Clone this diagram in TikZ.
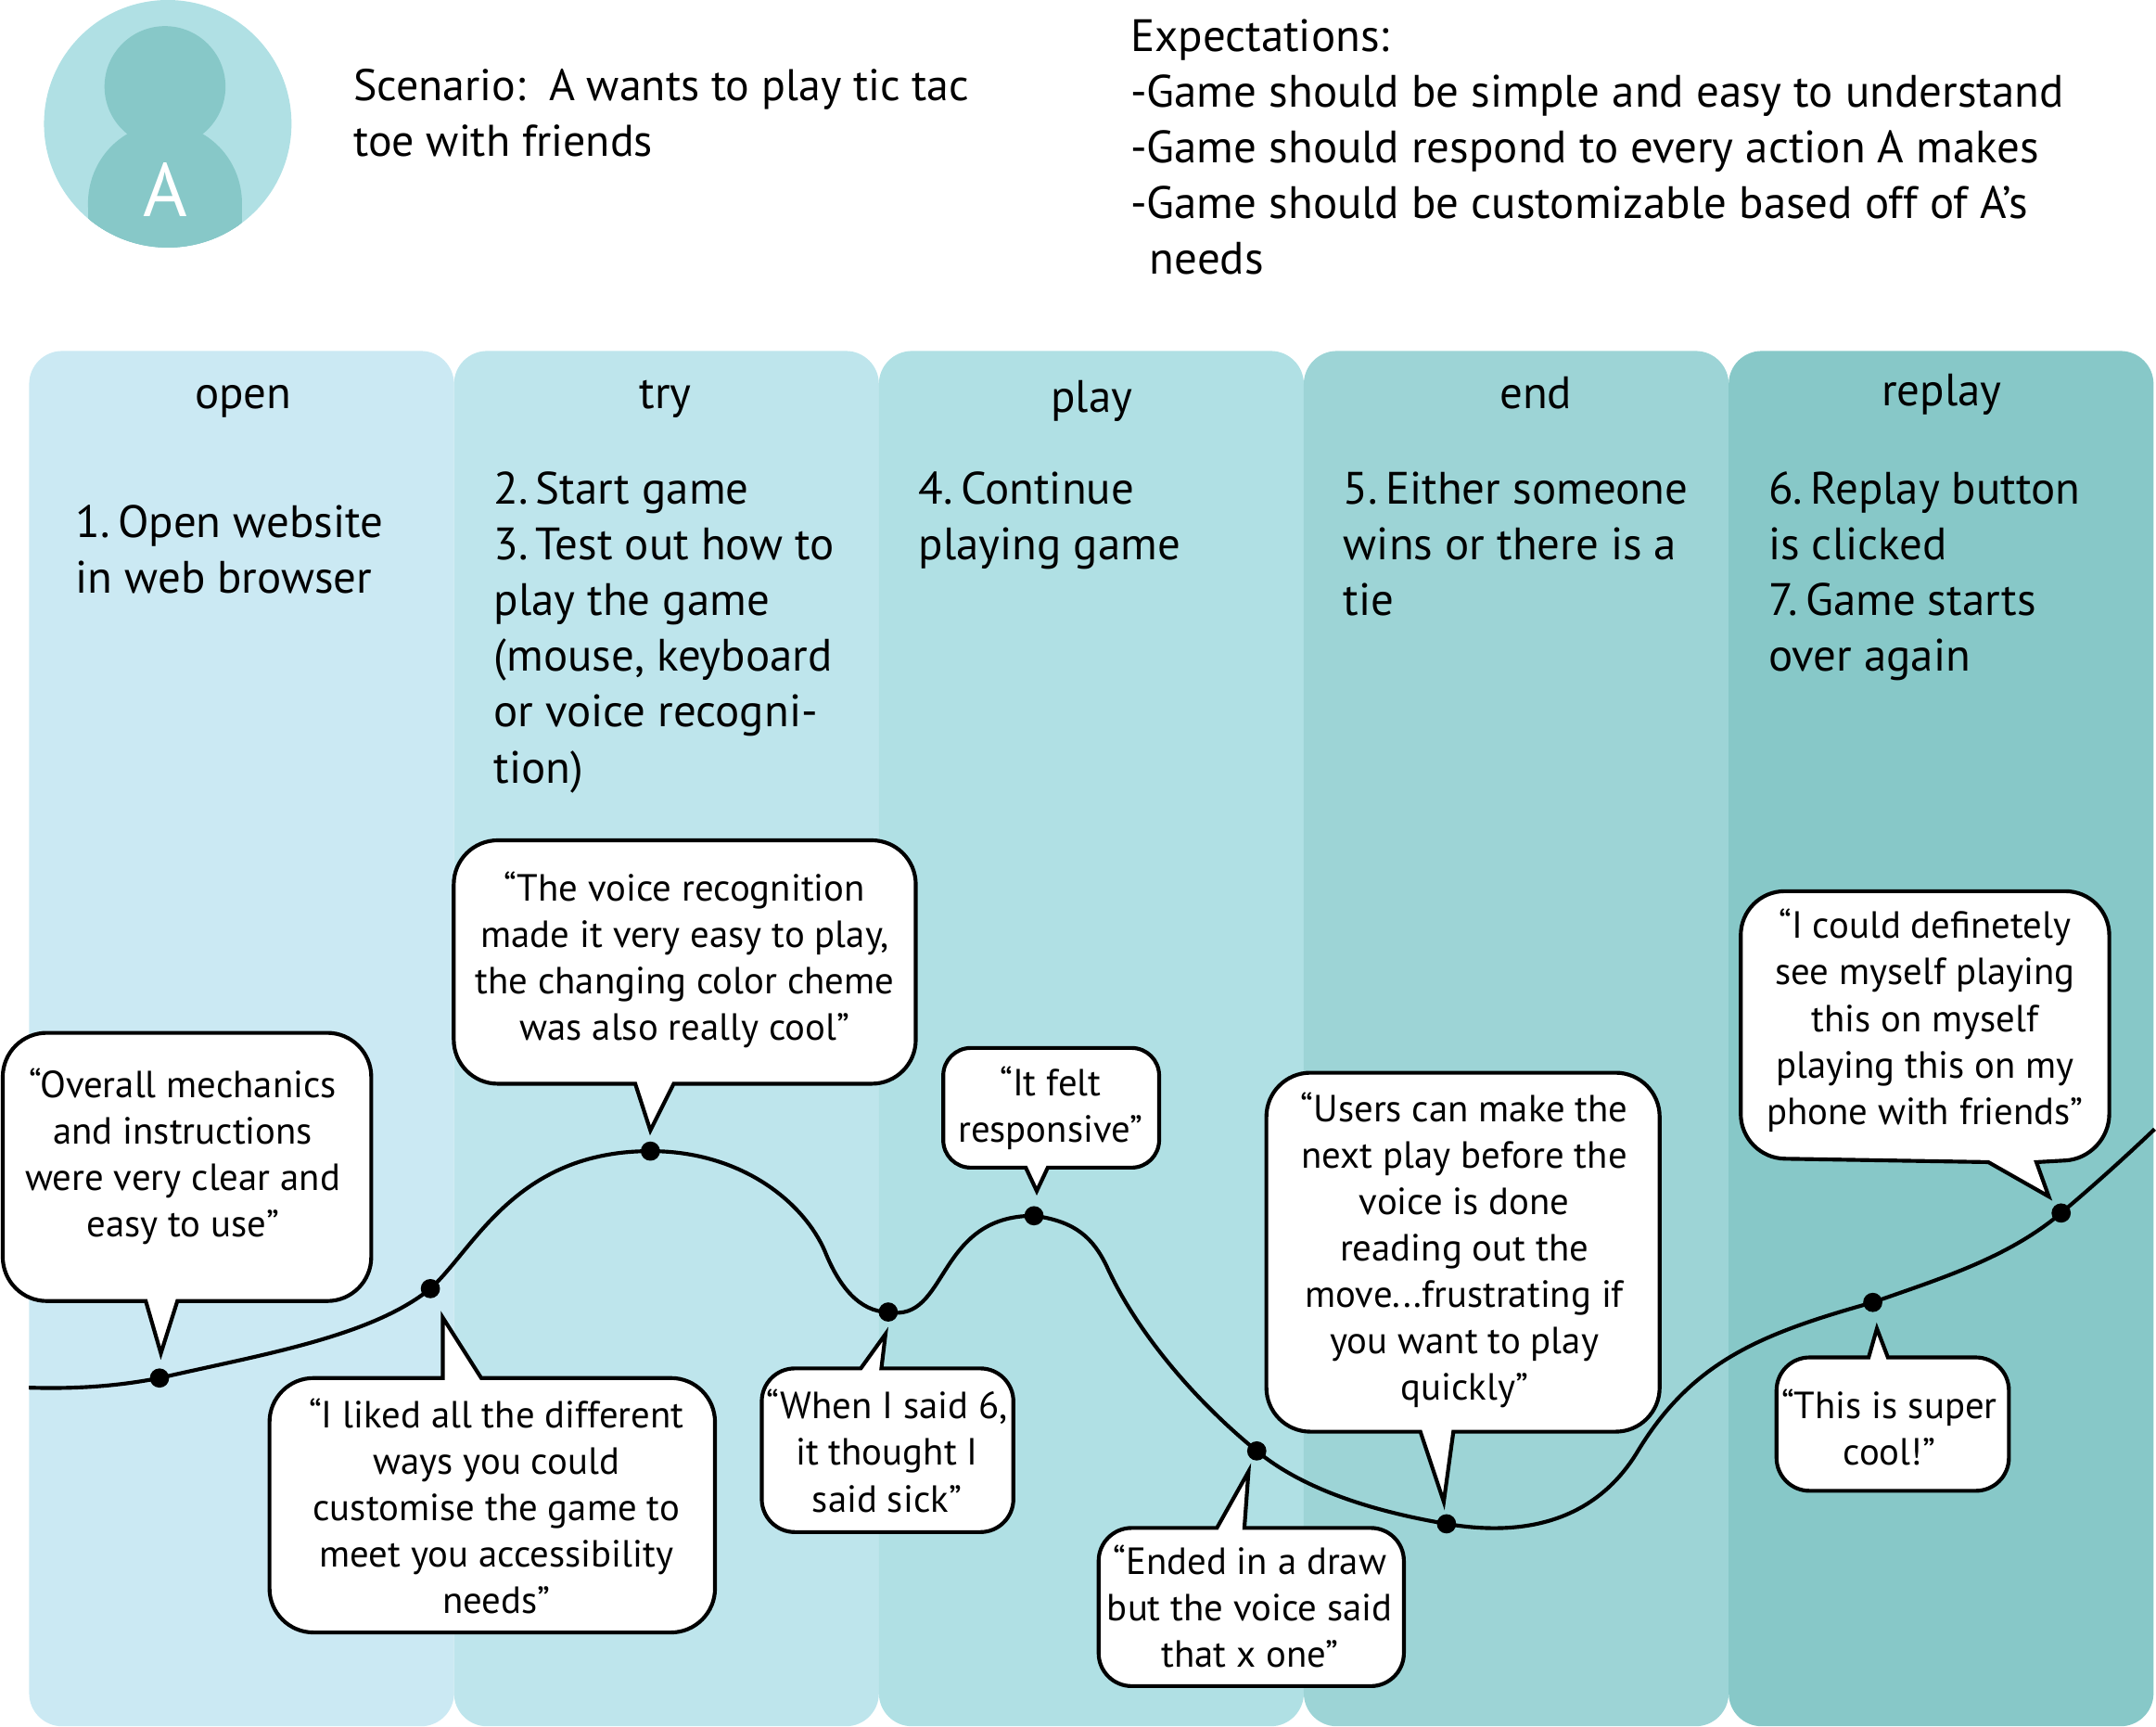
\documentclass[tikz,border=0pt]{standalone}
\usepackage{fontspec}
\setmainfont{PT Sans}
\definecolor{laneopen}{HTML}{CBE9F3}
\definecolor{lanetry}{HTML}{BEE5EC}
\definecolor{laneplay}{HTML}{B0E0E4}
\definecolor{laneend}{HTML}{9DD4D6}
\definecolor{lanereplay}{HTML}{87C8C8}
\newcommand{\numgap}{\hspace{5.5pt}}
\tikzset{
  lanebox/.style={anchor=north west, inner sep=0pt, minimum width=309pt, minimum height=1000pt, rounded corners=24pt},
  bodytext/.style={anchor=north west, inner sep=0pt, align=left, font=\fontsize{33}{40.5}\selectfont},
  headtext/.style={anchor=base, inner sep=0pt, font=\fontsize{33}{40.5}\selectfont},
  quotetext/.style={inner sep=0pt, align=center, font=\fontsize{27.5}{33.8}\selectfont},
  bubble/.style={draw=black, fill=white, line width=2.8pt, line join=miter},
  curveline/.style={draw=black, line width=2.8pt},
  pointdot/.style={circle, fill=black, inner sep=0pt, minimum size=14pt}
}
\begin{document}
\begin{tikzpicture}[x=1pt,y=-1pt]
\useasboundingbox (0,0) rectangle (1568,1255.7);
% avatar
\fill[laneplay] (122,90) circle (90);
\begin{scope}
\clip (122,90) circle (90);
\fill[lanereplay] (120,63) circle (44);
\fill[lanereplay] (120,148) ellipse (56 and 58);
\fill[lanereplay] (64,148) rectangle (176,190);
\end{scope}
\node[inner sep=0pt, text=white, font=\fontsize{55}{60}\selectfont] (avatar) at (120,138) {A};
% heading texts
\node[bodytext, font=\fontsize{32.3}{40.5}\selectfont] (scenario) at (257,50) {Scenario:\hspace{17pt}A wants to play tic tac\\toe with friends};
\node[bodytext] (expect) at (822,14) {Expectations:\\-Game should be simple and easy to understand\\-Game should respond to every action A makes\\-Game should be customizable based off of A’s\\\hspace*{14pt}needs};
% lanes
\foreach \lname/\lx in {laneopen/21,lanetry/330,laneplay/639,laneend/948,lanereplay/1257}
  \node[lanebox, fill=\lname] (\lname) at (\lx,255) {};
\node[headtext] (hopen) at (177,297) {open};
\node[headtext] (htry) at (484,297) {try};
\node[headtext] (hplay) at (794,300) {play};
\node[headtext] (hend) at (1117,297) {end};
\node[headtext] (hreplay) at (1412,295) {replay};
\node[bodytext] (topen) at (55,367) {1.\numgap Open website\\in web browser};
\node[bodytext] (ttry) at (359,343) {2.\numgap Start game\\3.\numgap Test out how to\\play the game\\(mouse, keyboard\\or voice recogni-\\tion)};
\node[bodytext] (tplay) at (668,343) {4.\numgap Continue\\playing game};
\node[bodytext] (tend) at (977,343) {5.\numgap Either someone\\wins or there is a\\tie};
\node[bodytext] (treplay) at (1286,343) {6.\numgap Replay button\\is clicked\\7.\numgap Game starts\\over again};
% points on the curve
\coordinate (cstart) at (21,1009);
\coordinate (cstop) at (1567,821);
\coordinate (m1) at (600,910);
\coordinate (m2) at (805,921);
\coordinate (m3) at (1190,1057);
\node[pointdot] (p1) at (116,1002) {};
\node[pointdot] (p2) at (313,937) {};
\node[pointdot] (p3) at (473,837) {};
\node[pointdot] (p4) at (646,954) {};
\node[pointdot] (p5) at (752,884) {};
\node[pointdot] (p6) at (914,1055) {};
\node[pointdot] (p7) at (1052,1108) {};
\node[pointdot] (p8) at (1362,947) {};
\node[pointdot] (p9) at (1499,882) {};
\draw[curveline] (cstart) .. controls (55,1010) and (85,1008) .. (p1.center)
  .. controls (190,985) and (270,972) .. (p2.center)
  .. controls (345,908) and (375,837) .. (p3.center)
  .. controls (540,837) and (585,875) .. (m1)
  .. controls (610,935) and (625,954) .. (p4.center)
  .. controls (690,962) and (680,884) .. (p5.center)
  .. controls (782,888) and (795,900) .. (m2)
  .. controls (825,965) and (865,1015) .. (p6.center)
  .. controls (950,1085) and (1005,1100) .. (p7.center)
  .. controls (1110,1118) and (1160,1105) .. (m3)
  .. controls (1230,990) and (1280,970) .. (p8.center)
  .. controls (1410,930) and (1460,915) .. (p9.center)
  .. controls (1525,860) and (1547,840) .. (cstop);
% bubbles
\draw[bubble] (106,946) [rounded corners=32pt] -- (2,946) -- (2,751) -- (270,751) -- (270,946) [sharp corners] -- (129,946) -- (117,984) -- cycle;
\node[quotetext] (q1) at (133,841) {“Overall mechanics\\and instructions\\were very clear and\\easy to use”};
\draw[bubble] (350,1002) [rounded corners=32pt] -- (520,1002) -- (520,1187) -- (196,1187) -- (196,1002) [sharp corners] -- (322,1002) -- (322,958) -- cycle;
\node[quotetext] (q2) at (361,1095) {“I liked all the different\\ways you could\\customise the game to\\meet you accessibility\\needs”};
\draw[bubble] (462,788) [rounded corners=32pt] -- (330,788) -- (330,611) -- (666,611) -- (666,788) [sharp corners] -- (490,788) -- (473,822) -- cycle;
\node[quotetext] (q3) at (498,698) {“The voice recognition\\made it very easy to play,\\the changing color cheme\\was also really cool”};
\draw[bubble] (641,995) [rounded corners=24pt] -- (737,995) -- (737,1114) -- (554,1114) -- (554,995) [sharp corners] -- (626,995) -- (644,970) -- cycle;
\node[quotetext] (q4) at (645,1055) {“When I said 6,\\it thought I\\said sick”};
\draw[bubble] (746,849) [rounded corners=20pt] -- (686,849) -- (686,762) -- (843,762) -- (843,849) [sharp corners] -- (762,849) -- (754,866) -- cycle;
\node[quotetext] (q5) at (764,806) {“It felt\\responsive”};
\draw[bubble] (1033,1041) [rounded corners=32pt] -- (921,1041) -- (921,780) -- (1207,780) -- (1207,1041) [sharp corners] -- (1057,1041) -- (1050,1092) -- cycle;
\node[quotetext] (q6) at (1065,909) {“Users can make the\\next play before the\\voice is done\\reading out the\\move...frustrating if\\you want to play\\quickly”};
\draw[bubble] (905,1111) [rounded corners=24pt] -- (1021,1111) -- (1021,1226) -- (799,1226) -- (799,1111) [sharp corners] -- (885,1111) -- (908,1070) -- cycle;
\node[quotetext] (q7) at (909,1168) {“Ended in a draw\\but the voice said\\that x one”};
\draw[bubble] (1446,845) [rounded corners=32pt] -- (1266,842) -- (1266,648) -- (1534,648) -- (1534,842) [sharp corners] -- (1481,845) -- (1490,870) -- cycle;
\node[quotetext] (q8) at (1400,742) {“I could definetely\\see myself playing\\this on myself\\playing this on my\\phone with friends”};
\draw[bubble] (1373,987) [rounded corners=24pt] -- (1461,987) -- (1461,1084) -- (1292,1084) -- (1292,987) [sharp corners] -- (1359,987) -- (1365,966) -- cycle;
\node[quotetext] (q9) at (1374,1038) {“This is super\\cool!”};
\end{tikzpicture}
\end{document}
